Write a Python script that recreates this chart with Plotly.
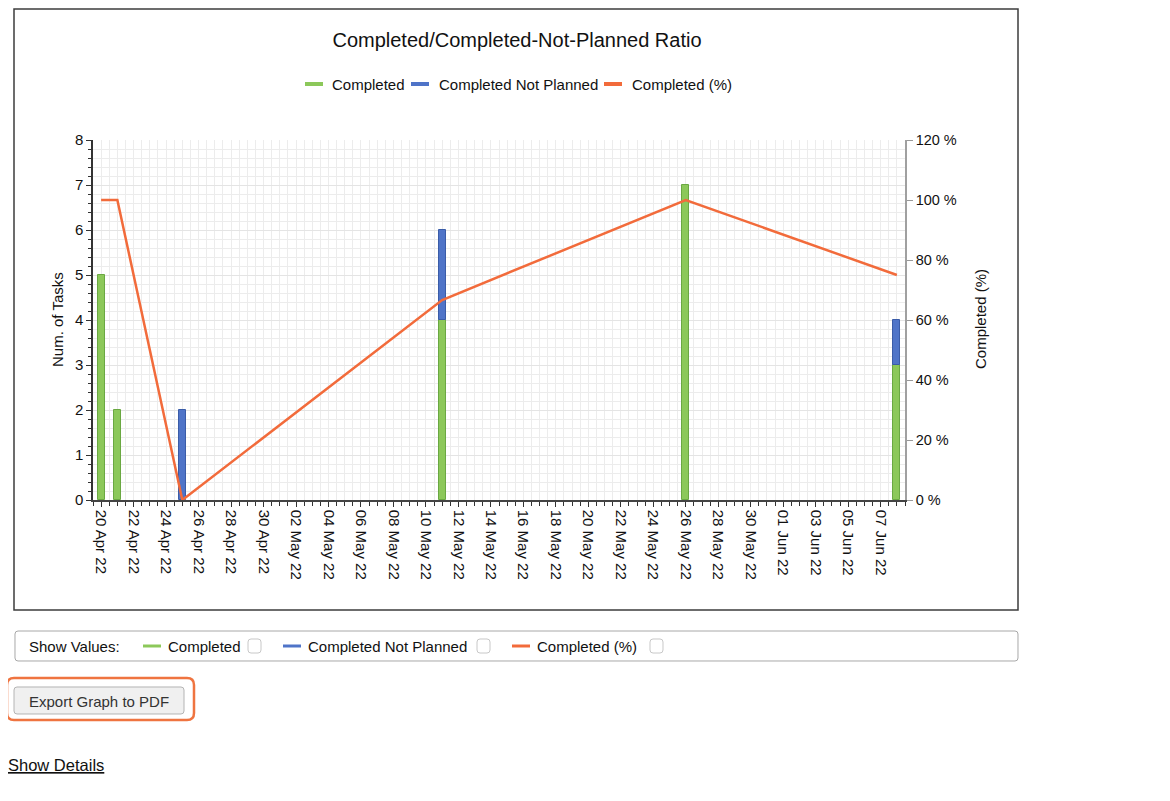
import plotly.graph_objects as go

# ---------------- data ----------------
dates = ["2022-04-20", "2022-04-21", "2022-04-25", "2022-05-11", "2022-05-26", "2022-06-08"]
completed = [5, 2, 0, 4, 7, 3]
completed_not_planned = [0, 0, 2, 2, 0, 1]
completed_pct = [100, 100, 0, 66.67, 100, 75]

series_names = ["Completed", "Completed Not Planned", "Completed (%)"]
title_text = "Completed/Completed-Not-Planned Ratio"
y_title = "Num. of Tasks"
y2_title = "Completed (%)"

# ---------------- styling ----------------
GREEN = "#8cc85a"
GREEN_DARK = "#6aa842"
BLUE = "#4f74c8"
BLUE_DARK = "#3a5ca8"
ORANGE = "#f26b3b"
FONT = "Liberation Sans, Arial, Helvetica, sans-serif"

OFF = 8                      # page body margin of the browser
W, H = 1170 - 2 * OFF, 801 - 2 * OFF
# plot area in page pixels
PL, PR, PT, PB = 93, 905, 140, 500


def px(x):
    return (x - PL) / (PR - PL)


def py(y):
    return (PB - y) / (PB - PT)


def nz(vals):
    return [v if v else None for v in vals]


def rrect(x0, y0, x1, y1, r):
    """rounded rectangle path in paper coords, from page pixel coords"""
    X = lambda v: f"{px(v):.5f}"
    Y = lambda v: f"{py(v):.5f}"
    return (f"M{X(x0 + r)},{Y(y0)} L{X(x1 - r)},{Y(y0)} Q{X(x1)},{Y(y0)} {X(x1)},{Y(y0 + r)} "
            f"L{X(x1)},{Y(y1 - r)} Q{X(x1)},{Y(y1)} {X(x1 - r)},{Y(y1)} "
            f"L{X(x0 + r)},{Y(y1)} Q{X(x0)},{Y(y1)} {X(x0)},{Y(y1 - r)} "
            f"L{X(x0)},{Y(y0 + r)} Q{X(x0)},{Y(y0)} {X(x0 + r)},{Y(y0)} Z")


DAY = 86400000

fig = go.Figure()

fig.add_trace(go.Bar(
    x=dates, y=nz(completed), name=series_names[0],
    showlegend=False, width=0.43 * DAY,
    marker=dict(color=GREEN, line=dict(color=GREEN_DARK, width=1)),
))
fig.add_trace(go.Bar(
    x=dates, y=nz(completed_not_planned), name=series_names[1],
    showlegend=False, width=0.43 * DAY,
    marker=dict(color=BLUE, line=dict(color=BLUE_DARK, width=1)),
))
fig.add_trace(go.Scatter(
    x=dates, y=completed_pct, name=series_names[2],
    showlegend=False, mode="lines", yaxis="y2",
    line=dict(color=ORANGE, width=2.5),
))

shapes = []
annotations = []


def text(t, x, y, size=14, xanchor="left", color="#111", angle=0):
    annotations.append(dict(text=t, xref="paper", yref="paper", x=px(x), y=py(y),
                            xanchor=xanchor, yanchor="middle", showarrow=False,
                            textangle=angle,
                            font=dict(size=size, color=color, family=FONT)))


# chart frame
shapes.append(dict(type="rect", xref="paper", yref="paper",
                   x0=px(14), x1=px(1018), y0=py(610), y1=py(9),
                   line=dict(color="#3c3c3c", width=1.5), layer="below"))

# legend (short thick line + label)
legend_items = [(series_names[0], GREEN, 305, 331),
                (series_names[1], BLUE, 411, 438),
                (series_names[2], ORANGE, 604, 631)]
for nm, col, lx, tx in legend_items:
    shapes.append(dict(type="line", xref="paper", yref="paper",
                       x0=px(lx), x1=px(lx + 18), y0=py(84), y1=py(84),
                       line=dict(color=col, width=4)))
    text(nm, tx - 1, 84, size=15)

# axis titles
text(y_title, 57, 320, size=15, xanchor="center", angle=-90)
text(y2_title, 980, 319, size=15, xanchor="center", angle=-90)

# ---- "Show Values" bar below the chart ----
shapes.append(dict(type="path", xref="paper", yref="paper",
                   path=rrect(15, 631, 1018, 661, 3),
                   line=dict(color="#a8a8a8", width=1), fillcolor="white"))
text("Show Values:", 27, 646, size=15)
sv_items = [
    (series_names[0], GREEN, 143, 166, 248),
    (series_names[1], BLUE, 283, 306, 477),
    (series_names[2], ORANGE, 512, 535, 650),
]
for nm, col, lx, tx, cx in sv_items:
    shapes.append(dict(type="line", xref="paper", yref="paper",
                       x0=px(lx), x1=px(lx + 18), y0=py(646), y1=py(646),
                       line=dict(color=col, width=3)))
    text(nm, tx, 646, size=15)
    shapes.append(dict(type="path", xref="paper", yref="paper",
                       path=rrect(cx, 639, cx + 13, 653, 3),
                       line=dict(color="#c8c8c8", width=1), fillcolor="white"))

# ---- Export button ----
shapes.append(dict(type="path", xref="paper", yref="paper",
                   path=rrect(7, 678, 194, 720, 7),
                   line=dict(color="#ef7440", width=2.5), fillcolor="white"))
shapes.append(dict(type="path", xref="paper", yref="paper",
                   path=rrect(14, 687, 184, 714, 3),
                   line=dict(color="#b4b4b4", width=1), fillcolor="#f0f0f0"))
text("Export Graph to PDF", 99, 701, size=15, xanchor="center", color="#333")

# ---- Show Details link ----
text("<u>Show Details</u>", 6, 765, size=16.5)

GRID = "#ececec"

fig.update_layout(
    width=W, height=H,
    margin=dict(l=PL - OFF, r=W - (PR - OFF), t=PT - OFF, b=H - (PB - OFF), pad=0),
    paper_bgcolor="white", plot_bgcolor="white",
    barmode="relative", bargap=0,
    font=dict(family=FONT, color="#111"),
    title=dict(text=title_text, xref="paper", x=px(517), xanchor="center",
               yref="container", y=1 - (40 - OFF) / H, yanchor="middle",
               font=dict(size=20, color="#111", family=FONT)),
    showlegend=False,
    xaxis=dict(
        type="date",
        range=["2022-04-19 12:00", "2022-06-08 12:00"],
        tick0="2022-04-20", dtick=2 * DAY, tickformat="%d %b %y",
        tickangle=90, tickfont=dict(size=15, color="#111"),
        ticks="outside", ticklen=5, tickcolor="#333", tickwidth=1,
        showline=True, linecolor="#444", linewidth=1.5,
        showgrid=True, gridcolor=GRID, gridwidth=1,
        minor=dict(dtick=DAY / 2, tick0="2022-04-20", ticks="outside",
                   ticklen=4, tickcolor="#333", showgrid=True,
                   gridcolor=GRID, gridwidth=1),
        zeroline=False, fixedrange=True,
    ),
    yaxis=dict(
        range=[0, 8], dtick=1, tick0=0,
        tickfont=dict(size=15, color="#111"),
        ticks="outside", ticklen=5, tickcolor="#333",
        showline=True, linecolor="#333", linewidth=1.5,
        showgrid=True, gridcolor="#e4e4e4",
        minor=dict(dtick=0.2, ticks="outside", ticklen=3, tickcolor="#333",
                   showgrid=True, gridcolor=GRID),
        zeroline=False,
    ),
    yaxis2=dict(
        overlaying="y", side="right", range=[0, 120], dtick=20, tick0=0,
        ticksuffix=" %", tickfont=dict(size=14.5, color="#111"),
        ticks="outside", ticklen=6, tickcolor="#999",
        showline=True, linecolor="#a0a0a0", linewidth=1.5,
        showgrid=False, zeroline=False,
    ),
    shapes=shapes,
    annotations=annotations,
)

fig.write_html("out.html")
